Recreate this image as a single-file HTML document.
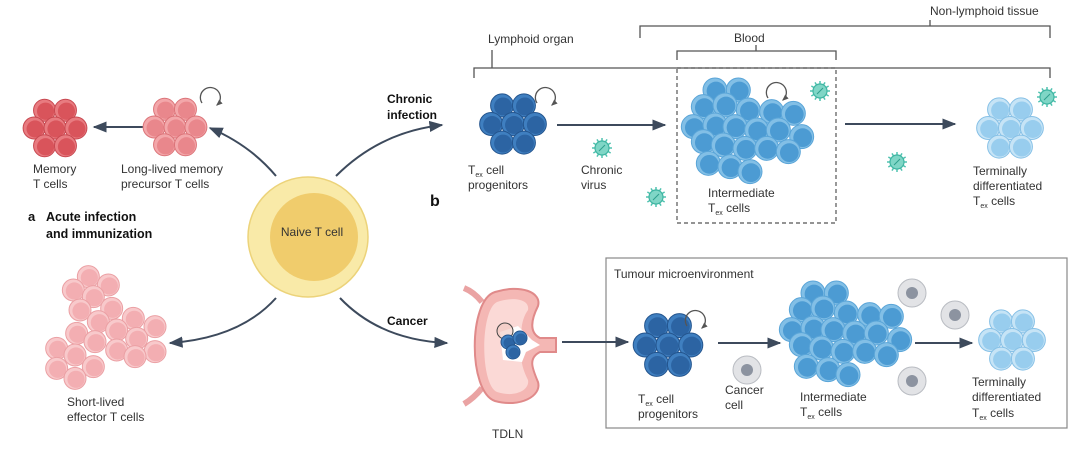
<!DOCTYPE html>
<html><head><meta charset="utf-8">
<style>
html,body{margin:0;padding:0;background:#fff;}
svg{display:block;}
text{font-family:"Liberation Sans",sans-serif;fill:#333;}
.b{font-weight:bold;fill:#111;}
</style></head>
<body>
<svg id="s" width="1080" height="460" viewBox="0 0 1080 460" xmlns="http://www.w3.org/2000/svg">
<defs>
<marker id="ah" viewBox="0 0 10 10" refX="9" refY="5" markerWidth="7" markerHeight="7" orient="auto-start-reverse">
<path d="M0,1 L10,5 L0,9 z" fill="#3d4a5c"/></marker>
<marker id="ah2" viewBox="0 0 10 10" refX="8" refY="5" markerWidth="5" markerHeight="5" orient="auto">
<path d="M0,1 L10,5 L0,9 z" fill="#555"/></marker>
</defs>

<g stroke="#555" stroke-width="1.3" fill="none">
<path d="M640,38 V26 H1050 V38 M930,26 V20"/>
<path d="M474,78 V68 H1050 V78 M492,68 V50"/>
<path d="M677,60 V51 H836 V60 M756,51 V45"/>
</g>
<rect x="677" y="68" width="159" height="155" fill="none" stroke="#555" stroke-width="1.2" stroke-dasharray="4,3"/>
<text x="930" y="15" font-size="12">Non-lymphoid tissue</text>
<text x="488" y="43" font-size="12">Lymphoid organ</text>
<text x="734" y="42" font-size="12">Blood</text>

<rect x="606" y="258" width="461" height="170" fill="none" stroke="#888" stroke-width="1.2"/>
<text x="614" y="278" font-size="12">Tumour microenvironment</text>

<g stroke="#3d4a5c" stroke-width="2" fill="none" marker-end="url(#ah)">
<path d="M145,127 H94"/>
<path d="M276,176 Q250,145 210,128"/>
<path d="M336,176 Q380,132 442,125"/>
<path d="M276,298 Q240,338 170,343"/>
<path d="M340,298 Q380,340 447,343"/>
<path d="M557,125 H665"/>
<path d="M845,124 H955"/>
<path d="M562,342 H628"/>
<path d="M718,343 H780"/>
<path d="M915,343 H972"/>
</g>

<circle cx="308" cy="237" r="60" fill="#f9eaa8" stroke="#ecd37a" stroke-width="1.5"/>
<circle cx="314" cy="237" r="44" fill="#f0cc6c"/>
<path d="M276,215 A44,44 0 0 0 350,270 A46,46 0 0 1 276,215z" fill="#e6bd55" opacity="0.6"/>
<text x="312" y="236" font-size="12" text-anchor="middle" fill="#444">Naive T cell</text>

<!-- TDLN -->
<g>
<path d="M482,302 Q474,292 464,288 M482,388 Q474,398 464,404" stroke="#eaa3a3" stroke-width="6" fill="none"/>
<path d="M495,292 C468,300 468,392 495,401 C520,408 542,396 538,382 C532,368 528,358 540,352 L556,352 L556,338 L540,338 C528,332 532,318 538,306 C542,292 520,284 495,292Z" fill="#f4b7b4" stroke="#e08a8a" stroke-width="2"/>
<path d="M497,302 C480,310 480,385 497,392 C515,398 530,390 528,380 C522,368 518,355 526,345 C518,335 522,318 528,310 C530,300 515,296 497,302Z" fill="#fbd9d6"/>
<path d="M500,332 L518,326 L532,340 L540,345 L526,352 L522,362 L503,360 Z" fill="#fff"/>
<circle cx="505" cy="331" r="8" fill="#f0c8c0" stroke="#444" stroke-width="1" fill-opacity="0.6"/>
</g>

<g id="cells"></g>

<text x="33" y="173" font-size="12">Memory</text>
<text x="33" y="188" font-size="12">T cells</text>
<text x="121" y="173" font-size="12">Long-lived memory</text>
<text x="121" y="188" font-size="12">precursor T cells</text>
<text x="28" y="221" font-size="13" class="b">a</text>
<text x="46" y="221" font-size="12.5" class="b">Acute infection</text>
<text x="46" y="238" font-size="12.5" class="b">and immunization</text>
<text x="67" y="406" font-size="12">Short-lived</text>
<text x="67" y="421" font-size="12">effector T cells</text>
<text x="387" y="103" font-size="12" class="b">Chronic</text>
<text x="387" y="119" font-size="12" class="b">infection</text>
<text x="430" y="206" font-size="16" class="b">b</text>
<text x="387" y="325" font-size="12" class="b">Cancer</text>
<text x="492" y="438" font-size="12">TDLN</text>

<text x="468" y="174" font-size="12">T<tspan font-size="7" dy="3">ex</tspan><tspan dy="-3"> cell</tspan></text>
<text x="468" y="189" font-size="12">progenitors</text>
<text x="581" y="174" font-size="12">Chronic</text>
<text x="581" y="189" font-size="12">virus</text>
<text x="708" y="197" font-size="12">Intermediate</text>
<text x="708" y="212" font-size="12">T<tspan font-size="7" dy="3">ex</tspan><tspan dy="-3"> cells</tspan></text>
<text x="973" y="175" font-size="12">Terminally</text>
<text x="973" y="190" font-size="12">differentiated</text>
<text x="973" y="205" font-size="12">T<tspan font-size="7" dy="3">ex</tspan><tspan dy="-3"> cells</tspan></text>

<text x="638" y="403" font-size="12">T<tspan font-size="7" dy="3">ex</tspan><tspan dy="-3"> cell</tspan></text>
<text x="638" y="418" font-size="12">progenitors</text>
<text x="725" y="394" font-size="12">Cancer</text>
<text x="725" y="409" font-size="12">cell</text>
<text x="800" y="401" font-size="12">Intermediate</text>
<text x="800" y="416" font-size="12">T<tspan font-size="7" dy="3">ex</tspan><tspan dy="-3"> cells</tspan></text>
<text x="972" y="386" font-size="12">Terminally</text>
<text x="972" y="401" font-size="12">differentiated</text>
<text x="972" y="417" font-size="12">T<tspan font-size="7" dy="3">ex</tspan><tspan dy="-3"> cells</tspan></text>
</svg>
<script>
var g=document.getElementById('cells');var NS='http://www.w3.org/2000/svg';
function c(x,y,r,f,s,extra){var e=document.createElementNS(NS,'circle');e.setAttribute('cx',x);e.setAttribute('cy',y);e.setAttribute('r',r);e.setAttribute('fill',f);if(s){e.setAttribute('stroke',s);e.setAttribute('stroke-width',extra||1);}g.appendChild(e);}
function cell(x,y,r,rim,main,edge){c(x,y,r,rim,edge,1);c(x+1,y+1,r*0.78,main);}
function cl(cx,cy,r,pts,rim,main,edge){pts.forEach(function(p){cell(cx+p[0]*r*0.95,cy+p[1]*r*0.95,r,rim,main,edge);});}
var fl=[[-1,-1.7],[1,-1.7],[-2,0],[0,0],[2,0],[-1,1.7],[1,1.7]];
cl(55,128,11,fl,'#e87b80','#d9545b','#c84850');
cl(175,127,11,fl,'#f3a7aa','#e9878c','#dc7479');
function loop(x,y){var p=document.createElementNS(NS,'path');p.setAttribute('d','M'+(x-8)+','+(y+6)+' A10,10 0 1 1 '+(x+7)+','+(y+8));p.setAttribute('stroke','#555');p.setAttribute('fill','none');p.setAttribute('stroke-width','1.3');p.setAttribute('marker-end','url(#ah2)');g.appendChild(p);}
var ef=[[205,50],[265,75],[160,90],[220,110],[180,150],[275,145],[340,175],[405,200],[235,185],[170,220],[225,245],[290,210],[350,235],[110,265],[165,285],[290,270],[405,275],[345,290],[110,325],[220,320],[165,355]];
ef.forEach(function(p){cell(20+p[0]/3,260+p[1]/3,11,'#f8c9cb','#f3aeb2','#eba0a4');});
cl(513,124,11.5,fl,'#3f7fc0','#2c64a3','#24558e');
var im=[[165,60],[235,60],[130,110],[195,105],[265,120],[335,125],[400,130],[100,170],[165,165],[225,170],[290,180],[355,180],[425,200],[130,215],[190,225],[255,235],[320,235],[385,245],[145,280],[210,290],[270,305]];
im.forEach(function(p){cell(660+p[0]/3,70+p[1]/3,12,'#82bfe6','#4c9bd3','#5aa5d8');});
im.forEach(function(p){cell(660+p[0]/3+98,70+p[1]/3+203,12,'#82bfe6','#4c9bd3','#5aa5d8');});
cl(1010,128,11.5,fl,'#c6e4f6','#98cdee','#86c0e6');
cl(1012,340,11.5,fl,'#c6e4f6','#98cdee','#86c0e6');
cl(668,345,12,fl,'#3f7fc0','#2c64a3','#24558e');
cell(508,342,7,'#3f7fc0','#2c64a3','#24558e');cell(520,338,7,'#3f7fc0','#2c64a3','#24558e');cell(513,352,7,'#3f7fc0','#2c64a3','#24558e');
loop(210,97);loop(545,97);loop(776,92);loop(695,320);
[[747,370],[912,293],[955,315],[912,381]].forEach(function(p){c(p[0],p[1],14,'#e2e3e6','#b9bcc2',1);c(p[0],p[1],6,'#8c93a0');});
function virus(x,y){for(var i=0;i<12;i++){var a=i*Math.PI/6;var l=document.createElementNS(NS,'line');l.setAttribute('x1',x+Math.cos(a)*6);l.setAttribute('y1',y+Math.sin(a)*6);l.setAttribute('x2',x+Math.cos(a)*10);l.setAttribute('y2',y+Math.sin(a)*10);l.setAttribute('stroke','#4fc2b0');l.setAttribute('stroke-width','1.5');g.appendChild(l);}
c(x,y,7,'#7fd6c6','#3fb5a2',1.2);var l2=document.createElementNS(NS,'line');l2.setAttribute('x1',x-3);l2.setAttribute('y1',y+3);l2.setAttribute('x2',x+3);l2.setAttribute('y2',y-3);l2.setAttribute('stroke','#2e9f8d');g.appendChild(l2);}
[[602,148],[656,197],[820,91],[897,162],[1047,97]].forEach(function(p){virus(p[0],p[1]);});
</script>
</body></html>
